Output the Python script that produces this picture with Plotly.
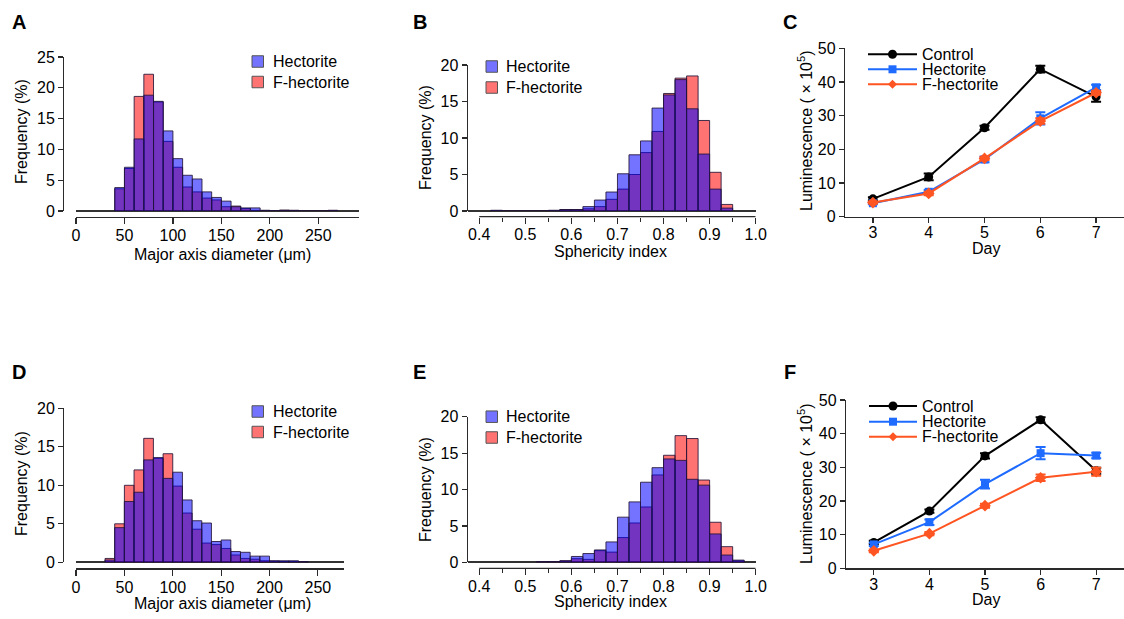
import plotly.graph_objects as go

W, H = 1124, 619
FONT = "Arial, Liberation Sans, Helvetica, sans-serif"


def px(x):
    return x / W


def py(y):
    return 1 - y / H


# ---------------- data ----------------
# Panel A: major axis diameter histogram (bin width 10 um)
A_bin_start = [40, 50, 60, 70, 80, 90, 100, 110, 120, 130, 140, 150, 160, 170, 180,
               190, 200, 210, 220, 230, 240, 250, 260]
A_hect = [3.8, 7.1, 11.7, 18.8, 17.8, 13.0, 8.5, 5.8, 5.2, 3.1, 2.2, 1.6, 0.7, 0.5, 0.5,
          0.1, 0.05, 0.1, 0.1, 0.0, 0.0, 0.0, 0.1]
A_fhect = [3.6, 6.9, 18.6, 22.2, 17.7, 11.3, 7.1, 3.9, 3.1, 2.1, 1.8, 0.7, 0.8, 0.4, 0.1,
           0.1, 0.05, 0.15, 0.1, 0.0, 0.0, 0.0, 0.1]
A_width = 10

# Panel B: sphericity histogram (bin width 0.025)
B_bin_start = [0.425, 0.45, 0.475, 0.5, 0.525, 0.55, 0.575, 0.6, 0.625, 0.65, 0.675, 0.7,
               0.725, 0.75, 0.775, 0.8, 0.825, 0.85, 0.875, 0.9, 0.925]
B_hect = [0.1, 0, 0, 0, 0, 0.1, 0.2, 0.2, 0.6, 1.5, 2.6, 5.1, 7.7, 9.6, 14.1, 15.9, 18.0,
          14.0, 7.8, 3.0, 0.4]
B_fhect = [0.05, 0, 0, 0, 0, 0.05, 0.2, 0.2, 0.3, 0.6, 1.6, 3.0, 5.0, 8.0, 10.9, 16.1, 18.2,
           18.5, 12.4, 5.3, 0.9]
B_width = 0.025

# Panel C: luminescence
days = [3, 4, 5, 6, 7]
C_control = [5.3, 11.8, 26.4, 43.8, 35.6]
C_control_err = [0.5, 1.0, 0.6, 1.0, 1.5]
C_hect = [4.0, 7.4, 17.0, 29.2, 38.4]
C_hect_err = [0.3, 0.5, 0.8, 1.8, 0.8]
C_fhect = [4.2, 6.9, 17.3, 28.4, 36.8]
C_fhect_err = [0.3, 0.5, 0.5, 0.8, 0.6]

# Panel D: major axis diameter histogram
D_bin_start = [30, 40, 50, 60, 70, 80, 90, 100, 110, 120, 130, 140, 150, 160, 170, 180,
               190, 200, 210, 220, 230]
D_hect = [0.3, 4.5, 7.9, 9.1, 13.3, 13.6, 10.9, 11.7, 8.1, 5.4, 5.1, 2.7, 2.9, 1.4, 1.3,
          0.8, 0.8, 0.2, 0.2, 0.2, 0.1]
D_fhect = [0.5, 5.0, 10.0, 12.0, 16.1, 13.5, 14.1, 9.9, 6.4, 4.3, 2.5, 2.3, 1.8, 0.95, 0.5,
           0.4, 0.2, 0.15, 0.1, 0.1, 0.05]
D_width = 10

# Panel E: sphericity histogram
E_bin_start = [0.525, 0.55, 0.575, 0.6, 0.625, 0.65, 0.675, 0.7, 0.725, 0.75, 0.775, 0.8,
               0.825, 0.85, 0.875, 0.9, 0.925, 0.95]
E_hect = [0.1, 0.1, 0.2, 0.8, 1.2, 1.7, 2.8, 6.2, 8.3, 11.0, 13.0, 14.2, 14.0, 11.4, 10.6,
          3.9, 1.0, 0.3]
E_fhect = [0.05, 0.1, 0.2, 0.5, 0.4, 1.6, 1.4, 3.4, 5.4, 7.6, 12.0, 14.7, 17.4, 17.0, 11.3,
           5.5, 2.15, 0.2]
E_width = 0.025

# Panel F: luminescence
F_control = [7.7, 17.0, 33.4, 44.1, 29.0]
F_control_err = [0.5, 0.5, 0.8, 0.8, 0.9]
F_hect = [7.1, 13.7, 25.0, 34.2, 33.5]
F_hect_err = [0.5, 0.8, 1.3, 1.8, 0.8]
F_fhect = [5.2, 10.3, 18.6, 26.9, 28.7]
F_fhect_err = [0.4, 0.5, 0.6, 1.0, 1.2]

diam_ticks = [0, 50, 100, 150, 200, 250]
sph_ticks = [0.4, 0.5, 0.6, 0.7, 0.8, 0.9, 1.0]
sph_minor = [0.45, 0.55, 0.65, 0.75, 0.85, 0.95]

# ---------------- styles ----------------
BLUE_BAR = "rgba(0,0,255,0.55)"
RED_BAR = "rgba(255,0,0,0.55)"
BAR_EDGE = "rgba(35,20,55,0.85)"
AXCOL = "#2a2a2a"
C_BLACK = "#000000"
C_BLUE = "#1f6bff"
C_ORANGE = "#ff5522"
FS = 16

fig = go.Figure()


def add_hist(starts, width, hect, fhect, xa, ya):
    centers = [s + width / 2 for s in starts]
    fig.add_trace(go.Bar(x=centers, y=fhect, width=width, name="F-hectorite",
                         marker=dict(color=RED_BAR, line=dict(color=BAR_EDGE, width=1)),
                         xaxis=xa, yaxis=ya, showlegend=False))
    fig.add_trace(go.Bar(x=centers, y=hect, width=width, name="Hectorite",
                         marker=dict(color=BLUE_BAR, line=dict(color=BAR_EDGE, width=1)),
                         xaxis=xa, yaxis=ya, showlegend=False))


def add_lines(ctrl, ctrl_e, hect, hect_e, fhect, fhect_e, xa, ya):
    for name, vals, errs, col, sym, size in [
        ("Control", ctrl, ctrl_e, C_BLACK, "circle", 9),
        ("Hectorite", hect, hect_e, C_BLUE, "square", 8),
        ("F-hectorite", fhect, fhect_e, C_ORANGE, "diamond", 9),
    ]:
        fig.add_trace(go.Scatter(
            x=days, y=vals, name=name, mode="lines+markers",
            line=dict(color=col, width=2),
            marker=dict(symbol=sym, size=size, color=col),
            error_y=dict(type="data", array=errs, color=col, thickness=2, width=5),
            xaxis=xa, yaxis=ya, showlegend=False, cliponaxis=False))


add_hist(A_bin_start, A_width, A_hect, A_fhect, "x", "y")
add_hist(B_bin_start, B_width, B_hect, B_fhect, "x2", "y2")
add_lines(C_control, C_control_err, C_hect, C_hect_err, C_fhect, C_fhect_err, "x3", "y3")
add_hist(D_bin_start, D_width, D_hect, D_fhect, "x4", "y4")
add_hist(E_bin_start, E_width, E_hect, E_fhect, "x5", "y5")
add_lines(F_control, F_control_err, F_hect, F_hect_err, F_fhect, F_fhect_err, "x6", "y6")

tickfont = dict(family=FONT, size=FS, color="#000")
common = dict(showgrid=False, tickfont=tickfont, linecolor=AXCOL, linewidth=1.2,
              tickcolor=AXCOL, tickwidth=1.2, ticks="outside", fixedrange=True,
              automargin=False)


def xhist(domain, rng, pos, tickvals, showline, fmt=None, minor=None, standoff=-2):
    d = dict(common, domain=domain, range=rng, anchor="free", position=pos,
             showline=showline, tickmode="array", tickvals=tickvals, ticklen=6,
             zeroline=False, ticklabelstandoff=standoff)
    if fmt:
        d["tickformat"] = fmt
    if minor:
        d["minor"] = dict(tickmode="array", tickvals=minor, ticklen=4, ticks="outside",
                          tickcolor=AXCOL, tickwidth=1.2, showgrid=False)
    return d


def yhist(domain, rng, anchor=None, pos=None):
    d = dict(common, domain=domain, range=rng, showline=True, dtick=5, ticklen=5,
             zeroline=True, zerolinecolor="#333", zerolinewidth=1.6)
    if pos is not None:
        d["anchor"] = "free"
        d["position"] = pos
    else:
        d["anchor"] = anchor
    return d


layout = dict(
    width=W, height=H, autosize=False,
    margin=dict(l=0, r=0, t=0, b=0, pad=0, autoexpand=False),
    paper_bgcolor="white", plot_bgcolor="rgba(0,0,0,0)",
    barmode="overlay", bargap=0, showlegend=False,
    font=dict(family=FONT, size=FS, color="#000"),
    # A
    xaxis=xhist([px(76), px(359)], [0, 292], py(216.7), diam_ticks, True),
    yaxis=yhist([py(211), py(57)], [0, 25], pos=px(63)),
    # B
    xaxis2=xhist([px(467.7), px(755.7)], [0.375, 1.0], py(216.7), sph_ticks, False,
                 fmt=".1f", minor=sph_minor, standoff=-3),
    yaxis2=yhist([py(211), py(65)], [0, 20], anchor="x2"),
    # C
    xaxis3=dict(common, domain=[px(845), 1.0], range=[2.5, 7.5], anchor="y3",
                showline=True, tickvals=days, ticklen=5, zeroline=False,
                ticklabelstandoff=-4),
    yaxis3=dict(common, domain=[py(216.7), py(48.3)], range=[0, 50], anchor="x3",
                showline=True, dtick=10, ticklen=5, zeroline=False),
    # D
    xaxis4=xhist([px(76), px(344)], [0, 277], py(568.3), diam_ticks, True),
    yaxis4=yhist([py(562.3), py(408.3)], [0, 20], pos=px(63)),
    # E
    xaxis5=xhist([px(467.7), px(755.7)], [0.375, 1.0], py(568.3), sph_ticks, False,
                 fmt=".1f", minor=sph_minor, standoff=-3),
    yaxis5=yhist([py(562.3), py(416.7)], [0, 20], anchor="x5"),
    # F
    xaxis6=dict(common, domain=[px(846), 1.0], range=[2.5, 7.5], anchor="y6",
                showline=True, tickvals=days, ticklen=5, zeroline=False,
                ticklabelstandoff=-4),
    yaxis6=dict(common, domain=[py(568.3), py(400)], range=[0, 50], anchor="x6",
                showline=True, dtick=10, ticklen=5, zeroline=False),
)
fig.update_layout(**layout)

shapes = []
annotations = []

# x-axis lines for sphericity panels (start at 0.4)
for xa, ypos in [("x2", 216.7), ("x5", 568.3)]:
    shapes.append(dict(type="line", xref=xa, yref="paper", x0=0.4, x1=1.0,
                       y0=py(ypos), y1=py(ypos), line=dict(color=AXCOL, width=1.2)))


def text(x, y, s, size=FS, angle=0, xanchor="center", bold=False):
    annotations.append(dict(x=px(x), y=py(y), xref="paper", yref="paper", text=s,
                            showarrow=False, textangle=angle, xanchor=xanchor,
                            yanchor="middle", borderpad=0,
                            font=dict(family=FONT, size=size, color="#000",
                                      weight="bold" if bold else "normal")))


# panel letters
for lab, x, y in [("A", 19, 22), ("B", 420, 22), ("C", 790, 22),
                  ("D", 19, 372), ("E", 419, 372), ("F", 790, 372)]:
    text(x, y, lab, size=20, bold=True)

# axis titles
text(21, 132, "Frequency (%)", angle=-90)
text(222, 254, "Major axis diameter (μm)")
text(425, 138, "Frequency (%)", angle=-90)
text(610, 251, "Sphericity index")
text(805, 131, "Luminescence ( × 10<sup>5</sup>)", angle=-90)
text(986, 248, "Day")
text(21, 484, "Frequency (%)", angle=-90)
text(222, 603, "Major axis diameter (μm)")
text(425, 490, "Frequency (%)", angle=-90)
text(610, 601, "Sphericity index")
text(805, 484, "Luminescence ( × 10<sup>5</sup>)", angle=-90)
text(986, 599, "Day")


# histogram legends (square swatches)
def hist_legend(sx, tx, y1, y2, size=11.5):
    for y, col, lab in [(y1, BLUE_BAR, "Hectorite"), (y2, RED_BAR, "F-hectorite")]:
        shapes.append(dict(type="rect", xref="paper", yref="paper",
                           x0=px(sx), x1=px(sx + size),
                           y0=py(y + size / 2), y1=py(y - size / 2),
                           fillcolor=col, line=dict(color="#555", width=1)))
        text(tx, y, lab, xanchor="left")


hist_legend(252, 272, 61.5, 82)
hist_legend(486, 505, 66.5, 87.5)
hist_legend(252, 272, 411.5, 432)
hist_legend(486, 505, 416.7, 437.5)


# line legends
def line_legend(x0, x1, tx, ys):
    xm = (x0 + x1) / 2
    for y, col, sym, lab in zip(ys, [C_BLACK, C_BLUE, C_ORANGE],
                                ["circle", "square", "diamond"],
                                ["Control", "Hectorite", "F-hectorite"]):
        shapes.append(dict(type="line", xref="paper", yref="paper", x0=px(x0), x1=px(x1),
                           y0=py(y), y1=py(y), line=dict(color=col, width=2)))
        if sym == "circle":
            r = 4.5
            shapes.append(dict(type="circle", xref="paper", yref="paper",
                               x0=px(xm - r), x1=px(xm + r), y0=py(y + r), y1=py(y - r),
                               fillcolor=col, line=dict(color=col, width=0)))
        elif sym == "square":
            r = 4
            shapes.append(dict(type="rect", xref="paper", yref="paper",
                               x0=px(xm - r), x1=px(xm + r), y0=py(y + r), y1=py(y - r),
                               fillcolor=col, line=dict(color=col, width=0)))
        else:
            r = 4.5
            path = "M {} {} L {} {} L {} {} L {} {} Z".format(
                px(xm - r), py(y), px(xm), py(y - r), px(xm + r), py(y), px(xm), py(y + r))
            shapes.append(dict(type="path", xref="paper", yref="paper", path=path,
                               fillcolor=col, line=dict(color=col, width=0)))
        text(tx, y, lab, xanchor="left")


line_legend(868, 917, 921, [54.3, 69.3, 84.3])
line_legend(869, 917, 921, [406, 421.7, 436.7])

fig.update_layout(shapes=shapes, annotations=annotations)
fig.write_html(
    "out.html",
    config={"displayModeBar": False, "staticPlot": True},
    post_script="document.body.style.margin='0px';document.body.style.padding='0px';"
                "document.body.style.overflow='hidden';",
)
